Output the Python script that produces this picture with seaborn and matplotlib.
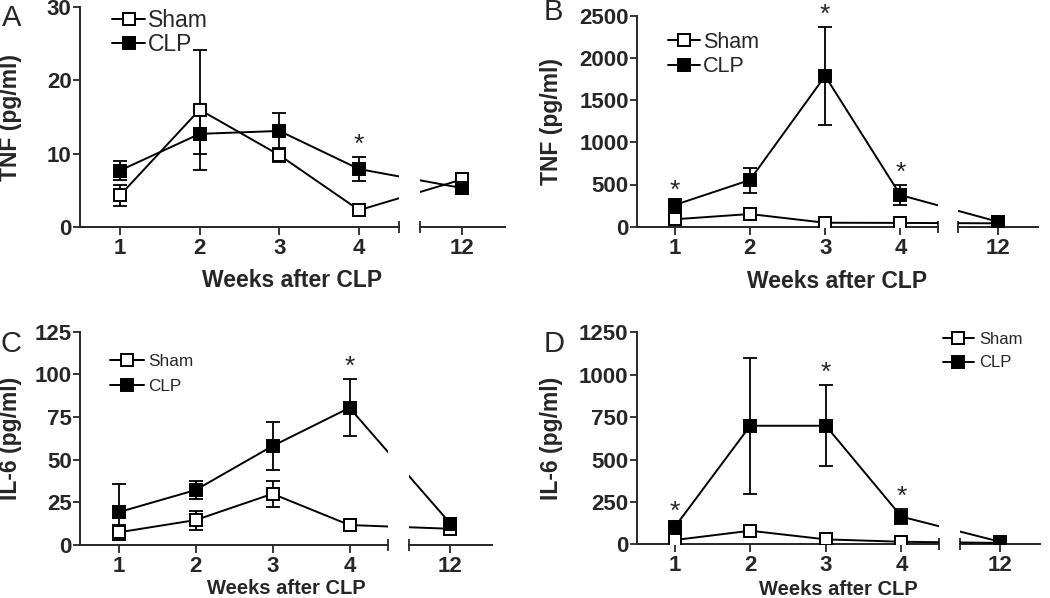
import numpy as np
import seaborn as sns
import matplotlib.pyplot as plt

# week labels (the 12 week point sits behind an axis break)
weeks = ["1", "2", "3", "4", "12"]

# A: TNF, early
tnf_a_sham = [4.3, 16.0, 9.8, 2.3, 6.5]
tnf_a_sham_err = [1.4, 8.2, 1.0, 0.7, 0.8]
tnf_a_clp = [7.7, 12.7, 13.1, 7.9, 5.3]
tnf_a_clp_err = [1.3, 2.8, 2.5, 1.6, 0.8]

# B: TNF
tnf_b_sham = [88, 150, 47, 45, 40]
tnf_b_sham_err = [25, 30, 10, 10, 10]
tnf_b_clp = [257, 553, 1786, 375, 59]
tnf_b_clp_err = [20, 148, 576, 115, 15]

# C: IL-6
il6_c_sham = [7.4, 14.6, 30.0, 11.7, 9.5]
il6_c_sham_err = [4.5, 5.6, 7.7, 1.5, 1.5]
il6_c_clp = [19.2, 32.2, 58.0, 80.4, 12.5]
il6_c_clp_err = [16.5, 5.2, 14.2, 16.6, 1.5]

# D: IL-6
il6_d_sham = [25, 80, 29, 15, 8]
il6_d_sham_err = [8, 15, 8, 5, 3]
il6_d_clp = [100, 699, 699, 163, 15]
il6_d_clp_err = [20, 400, 240, 44, 8]

# weeks with significance stars (on CLP)
stars_a = ["4"]
stars_b = ["1", "3", "4"]
stars_c = ["4"]
stars_d = ["1", "3", "4"]

W, H = 1050, 598

sns.set_style("ticks")
plt.rcParams["font.family"] = ["Liberation Sans", "DejaVu Sans"]
plt.rcParams["axes.linewidth"] = 1.4

fig = plt.figure(figsize=(W / 100, H / 100), dpi=100)


def rect(x0, x1, ybot, ytop):
    return [x0 / W, 1 - ybot / H, (x1 - x0) / W, (ybot - ytop) / H]


panels = [
    dict(letter="A", ylabel="TNF (pg/ml)", ymax=30, ystep=10,
         sham=(tnf_a_sham, tnf_a_sham_err), clp=(tnf_a_clp, tnf_a_clp_err), stars=stars_a,
         box=(80, 399, 420, 505, 227, 7), letter_xy=(2, 4), ylab_x=22, xlab_top=269, xlab_size=16.5,
         leg=(112, 9, 16.5, 1.45, 0.12, 0.05)),
    dict(letter="B", ylabel="TNF (pg/ml)", ymax=2500, ystep=500,
         sham=(tnf_b_sham, tnf_b_sham_err), clp=(tnf_b_clp, tnf_b_clp_err), stars=stars_b,
         box=(637, 938, 958, 1038, 226.7, 15.7), letter_xy=(544, -2), ylab_x=563, xlab_top=270, xlab_size=16.5,
         leg=(668, 32, 15.5, 1.5, 0.12, 0.15)),
    dict(letter="C", ylabel="IL-6 (pg/ml)", ymax=125, ystep=25,
         sham=(il6_c_sham, il6_c_sham_err), clp=(il6_c_clp, il6_c_clp_err), stars=stars_c,
         box=(80, 388, 409, 492, 545, 331.7), letter_xy=(0, 330), ylab_x=22, xlab_top=579, xlab_size=14.5,
         leg=(110, 354, 12.4, 1.95, 0.25, 0.55)),
    dict(letter="D", ylabel="IL-6 (pg/ml)", ymax=1250, ystep=250,
         sham=(il6_d_sham, il6_d_sham_err), clp=(il6_d_clp, il6_d_clp_err), stars=stars_d,
         box=(636.7, 939.3, 960, 1040, 544.3, 332.3), letter_xy=(544, 330), ylab_x=563, xlab_top=580, xlab_size=14.5,
         leg=(943, 332, 12.0, 1.85, 0.3, 0.5)),
]

tick_font = dict(fontsize=16, fontweight="bold")

for p in panels:
    l, le, rs, re, yb, yt = p["box"]
    ax1 = fig.add_axes(rect(l, le, yb, yt))
    ax2 = fig.add_axes(rect(rs, re, yb, yt))
    unit = (le - l) / 4.0
    lim2 = (4.5 + (rs - le) / unit, 4.5 + (re - le) / unit)
    xpos = [1, 2, 3, 4, (lim2[0] + lim2[1]) / 2]

    groups = [("Sham", p["sham"], "white"), ("CLP", p["clp"], "black")]
    for ax in (ax1, ax2):
        for name, (vals, err), face in groups:
            ax.errorbar(xpos, vals, yerr=err, fmt="none", ecolor="black",
                        elinewidth=1.3, capsize=5, capthick=1.3, zorder=2)
        for name, (vals, err), face in groups:
            sns.lineplot(x=xpos, y=vals, ax=ax, color="black", marker="s",
                         markersize=8.5, markerfacecolor=face, markeredgecolor="black",
                         markeredgewidth=1.4, linewidth=1.4, errorbar=None, legend=False,
                         label=name if ax is ax1 else None, zorder=3)
        ax.set_ylim(0, p["ymax"])
        ax.set_ylabel("")
        ax.set_xlabel("")
        ax.spines["top"].set_visible(False)
        ax.spines["right"].set_visible(False)

    # stars above CLP error bars
    clp_vals, clp_err = p["clp"]
    for wk in p["stars"]:
        i = weeks.index(wk)
        ax1.annotate("*", (xpos[i], clp_vals[i] + clp_err[i]), xytext=(0, 9),
                     textcoords="offset points", ha="center", va="center",
                     fontsize=19, annotation_clip=False)

    ax1.set_xlim(0.5, 4.5)
    ax1.set_xticks(xpos[:4])
    ax1.set_xticklabels(weeks[:4], **tick_font)
    ax1.set_yticks(np.arange(0, p["ymax"] + 1, p["ystep"]))
    ax1.set_yticklabels([str(v) for v in np.arange(0, p["ymax"] + 1, p["ystep"])], **tick_font)
    ax1.set_xticks([4.5], minor=True)
    ax1.tick_params(axis="x", which="major", direction="out", length=6, width=1.3, pad=2)
    ax1.tick_params(axis="y", direction="out", length=5, width=1.3, pad=1)
    ax1.tick_params(axis="x", which="minor", direction="inout", length=9, width=1.3)

    ax2.set_xlim(*lim2)
    ax2.set_xticks([xpos[4]])
    ax2.set_xticklabels([weeks[4]], **tick_font)
    ax2.set_xticks([lim2[0]], minor=True)
    ax2.set_yticks([])
    ax2.spines["left"].set_visible(False)
    ax2.tick_params(axis="x", which="major", direction="out", length=6, width=1.3, pad=2)
    ax2.tick_params(axis="x", which="minor", direction="inout", length=9, width=1.3)
    ax2.patch.set_alpha(0)

    # axis labels
    ax1.set_ylabel(p["ylabel"], fontsize=16.5, fontweight="bold")
    ax1.yaxis.set_label_coords((p["ylab_x"] - l) / (le - l), 0.5)
    ax1.set_xlabel("Weeks after CLP", fontsize=p["xlab_size"], fontweight="bold")
    ax1.xaxis.set_label_coords(((l + re) / 2 - l) / (le - l), (yb - p["xlab_top"]) / (yb - yt))
    ax1.xaxis.label.set_va("top")

    # legend
    lx, ly, lfs, hl, htp, lsp = p["leg"]
    ax1.legend(loc="upper left", bbox_to_anchor=((lx - l) / (le - l), (yb - ly) / (yb - yt)),
               frameon=False, fontsize=lfs, handlelength=hl, handletextpad=htp,
               labelspacing=lsp, borderaxespad=0, borderpad=0)

    fig.text(p["letter_xy"][0] / W, 1 - p["letter_xy"][1] / H, p["letter"],
             fontsize=21, va="top", ha="left")

fig.savefig("out.png", dpi=100)
